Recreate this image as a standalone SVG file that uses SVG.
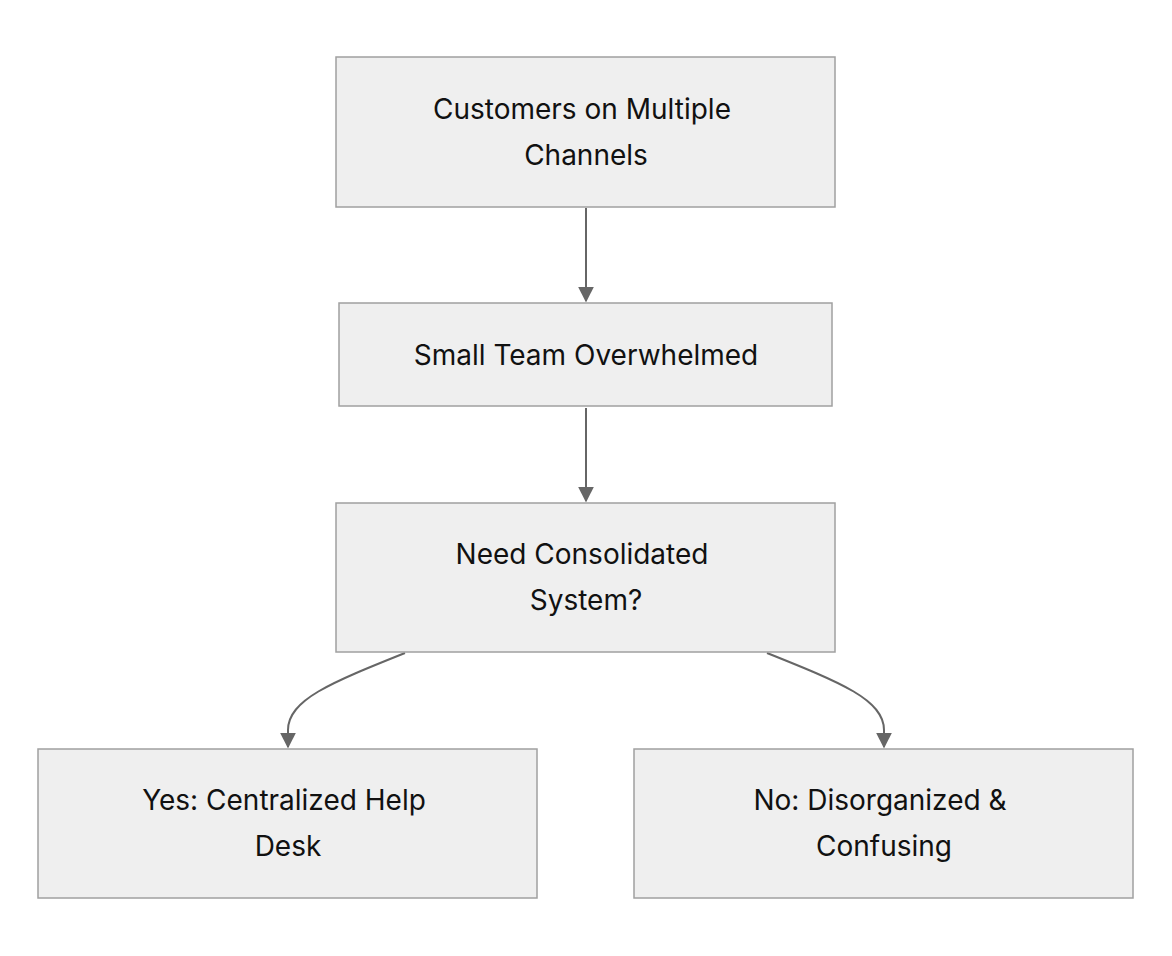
<svg xmlns="http://www.w3.org/2000/svg" width="1172" height="956" viewBox="0 0 1172 956">
<style>
.n{fill:#efefef;stroke:#a0a0a0;stroke-width:1.5}
.t{font-family:Inter,"Liberation Sans",sans-serif;font-size:28px;fill:#111;text-anchor:middle}
.c{fill:none;stroke:#666;stroke-width:2}
</style>
<defs><marker id="a" viewBox="0 0 10 10" refX="9" refY="5" markerWidth="8" markerHeight="8" markerUnits="userSpaceOnUse" orient="auto"><path d="M0,0L10,5L0,10z" fill="#666"/></marker>
<marker id="b" viewBox="0 0 10 10" refX="9" refY="5" markerWidth="16" markerHeight="16" markerUnits="userSpaceOnUse" orient="auto"><path d="M0,0L10,5L0,10z" fill="#666"/></marker></defs>
<rect width="1172" height="956" fill="#fff"/>
<g id="connectors">
<path class="c" d="M586,208V301" marker-end="url(#b)"/>
<path class="c" d="M586,408V501" marker-end="url(#b)"/>
<path class="c" d="M405,653C330,683 288,700 288,730V747" marker-end="url(#b)"/>
<path class="c" d="M767,653C842,683 884,700 884,730V747" marker-end="url(#b)"/>
</g>
<g id="n1"><rect class="n" x="336" y="57" width="499" height="150"/><text class="t" x="582" y="119">Customers on Multiple</text><text class="t" x="586" y="165">Channels</text></g>
<g id="n2"><rect class="n" x="339" y="303" width="493" height="103"/><text class="t" x="586" y="365">Small Team Overwhelmed</text></g>
<g id="n3"><rect class="n" x="336" y="503" width="499" height="149"/><text class="t" x="582" y="564">Need Consolidated</text><text class="t" x="586" y="610">System?</text></g>
<g id="n4"><rect class="n" x="38" y="749" width="499" height="149"/><text class="t" x="284" y="810">Yes: Centralized Help</text><text class="t" x="288" y="856">Desk</text></g>
<g id="n5"><rect class="n" x="634" y="749" width="499" height="149"/><text class="t" x="880" y="810">No: Disorganized &amp;</text><text class="t" x="884" y="856">Confusing</text></g>
</svg>
